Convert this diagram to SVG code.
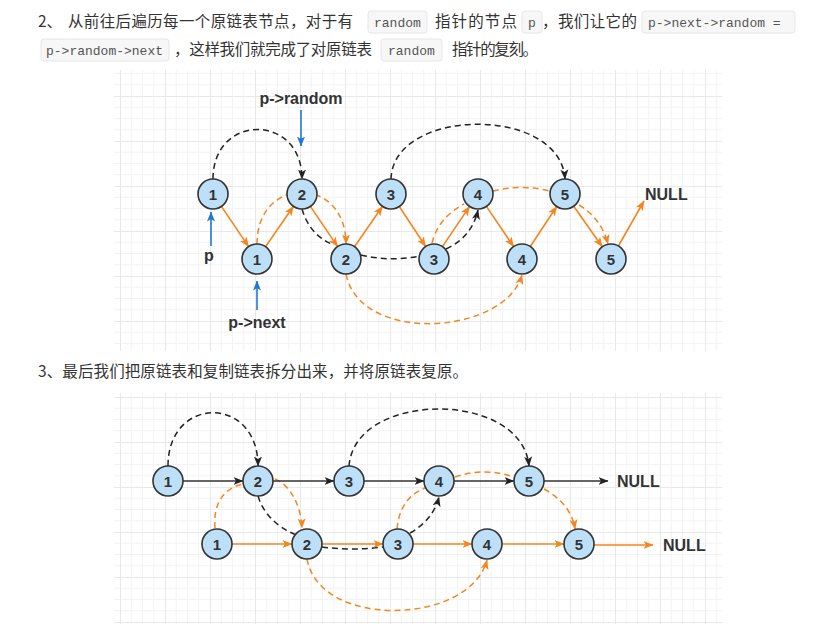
<svg xmlns="http://www.w3.org/2000/svg" width="836" height="624" viewBox="0 0 836 624">
<style>
.bg{fill:#ffffff}
.cn{font-family:"Noto Sans CJK SC","Noto Sans",sans-serif;font-size:15.5px;fill:#333}
.code{font-family:"Liberation Mono","DejaVu Sans Mono",monospace;font-size:13px;fill:#555}
.cbox{fill:#f7f7f7;stroke:#e6e6e6;stroke-width:1}
.node circle{fill:#bde0f8;stroke:#333;stroke-width:1.6}
.node text{font-family:"Liberation Sans",Arial,sans-serif;font-size:15px;font-weight:bold;fill:#333;text-anchor:middle}
.lbl{font-family:"Liberation Sans",Arial,sans-serif;font-size:16px;font-weight:bold;fill:#333}
.os{fill:none;stroke:#f5861f;stroke-width:1.6}
.od{fill:none;stroke:#f5861f;stroke-width:1.5;stroke-dasharray:6 4}
.ks{fill:none;stroke:#333;stroke-width:1.6}
.kd{fill:none;stroke:#222;stroke-width:1.5;stroke-dasharray:6 4}
.bl{fill:none;stroke:#1f78d1;stroke-width:1.6}
</style>
<defs>
<pattern id="gt" width="45" height="45" patternUnits="userSpaceOnUse" x="30" y="6">
<path d="M11.25,0 V45 M22.5,0 V45 M33.75,0 V45 M0,11.25 H45 M0,22.5 H45 M0,33.75 H45" stroke="#f3f3f3" stroke-width="1" fill="none"/>
<path d="M0.5,0 V45 M0,0.5 H45" stroke="#e8e8e8" stroke-width="1" fill="none"/>
</pattern>
<pattern id="gb" width="45" height="45" patternUnits="userSpaceOnUse" x="30" y="37">
<path d="M11.25,0 V45 M22.5,0 V45 M33.75,0 V45 M0,11.25 H45 M0,22.5 H45 M0,33.75 H45" stroke="#f3f3f3" stroke-width="1" fill="none"/>
<path d="M0.5,0 V45 M0,0.5 H45" stroke="#e8e8e8" stroke-width="1" fill="none"/>
</pattern>
<marker id="ao" markerUnits="userSpaceOnUse" markerWidth="10" markerHeight="10" viewBox="0 0 10 10" refX="9.5" refY="5" orient="auto"><path d="M0,1 L10,5 L0,9 L2.5,5 z" fill="#f5861f"/></marker>
<marker id="ak" markerUnits="userSpaceOnUse" markerWidth="10" markerHeight="10" viewBox="0 0 10 10" refX="9.5" refY="5" orient="auto"><path d="M0,1 L10,5 L0,9 L2.5,5 z" fill="#222"/></marker>
<marker id="ab" markerUnits="userSpaceOnUse" markerWidth="10" markerHeight="10" viewBox="0 0 10 10" refX="9.5" refY="5" orient="auto"><path d="M0,1 L10,5 L0,9 L2.5,5 z" fill="#1f78d1"/></marker>
</defs>
<rect class="bg" x="0" y="0" width="836" height="624"/>

<g id="text">
<text class="cn" x="38" y="27">2、</text>
<text class="cn" x="68" y="27" textLength="285">从前往后遍历每一个原链表节点，对于有</text>
<rect class="cbox" x="368" y="11" width="59" height="22" rx="3"/>
<text class="code" x="374" y="27">random</text>
<text class="cn" x="435" y="27" textLength="82">指针的节点</text>
<rect class="cbox" x="522" y="11" width="20" height="22" rx="3"/>
<text class="code" x="528" y="27">p</text>
<text class="cn" x="542" y="27" font-size="15">，</text>
<text class="cn" x="558" y="27" textLength="79">我们让它的</text>
<rect class="cbox" x="642" y="11" width="153" height="22" rx="3"/>
<text class="code" x="648" y="27">p-&gt;next-&gt;random =</text>
<rect class="cbox" x="41" y="39" width="128" height="22" rx="3"/>
<text class="code" x="46" y="55">p-&gt;random-&gt;next</text>
<text class="cn" x="174" y="55" textLength="198">，这样我们就完成了对原链表</text>
<rect class="cbox" x="381" y="39" width="61" height="22" rx="3"/>
<text class="code" x="388" y="55">random</text>
<text class="cn" x="452" y="55" textLength="86">指针的复刻。</text>
<text class="cn" x="38" y="377" textLength="430">3、最后我们把原链表和复制链表拆分出来，并将原链表复原。</text>
</g>

<rect x="114" y="70" width="608" height="281" fill="url(#gt)"/>
<rect x="114" y="393" width="608" height="231" fill="url(#gb)"/>

<g id="connectors-top">
<path class="kd" d="M213,179 C213,113 302,113 302,179" marker-end="url(#ak)"/>
<path class="kd" d="M391,179 C393,107 560,105 565,179" marker-end="url(#ak)"/>
<path class="kd" d="M302,209 Q310,236 334,245 M361,255 Q390,262 420,256 M446,249 Q472,237 478,210" marker-end="url(#ak)"/>
<path class="od" d="M257,244 C257,175 346,175 346,244" marker-end="url(#ao)"/>
<path class="od" d="M432,243 Q438,218 464,204 M493,191 Q520,184 550,191 M579,205 Q601,218 608,244" marker-end="url(#ao)"/>
<path class="od" d="M346,274 C360,345 505,335 522,275" marker-end="url(#ao)"/>
<path class="os" d="M221.4,206.4 L248.6,246.6" marker-end="url(#ao)"/>
<path class="os" d="M265.5,246.7 L293.5,206.3" marker-end="url(#ao)"/>
<path class="os" d="M310.4,206.4 L337.6,246.6" marker-end="url(#ao)"/>
<path class="os" d="M354.5,246.7 L382.5,206.3" marker-end="url(#ao)"/>
<path class="os" d="M399.3,206.5 L425.7,246.5" marker-end="url(#ao)"/>
<path class="os" d="M442.4,246.6 L469.6,206.4" marker-end="url(#ao)"/>
<path class="os" d="M486.4,206.4 L513.6,246.6" marker-end="url(#ao)"/>
<path class="os" d="M530.3,246.5 L556.7,206.5" marker-end="url(#ao)"/>
<path class="os" d="M573.7,206.2 L602.3,246.8" marker-end="url(#ao)"/>
<path class="os" d="M618.4,246 L644,201" marker-end="url(#ao)"/>
<path class="bl" d="M301,110 L301,146" marker-end="url(#ab)"/>
<path class="bl" d="M211,246 L211,212" marker-end="url(#ab)"/>
<path class="bl" d="M257,310 L257,281" marker-end="url(#ab)"/>
</g>

<g id="labels-top">
<text class="lbl" x="301" y="104" text-anchor="middle">p-&gt;random</text>
<text class="lbl" x="209" y="261" text-anchor="middle">p</text>
<text class="lbl" x="257" y="328" text-anchor="middle">p-&gt;next</text>
<text class="lbl" x="645" y="200" font-size="15">NULL</text>
</g>

<g id="top-n1" class="node"><circle cx="213" cy="194" r="15"/><text x="213" y="199.5">1</text></g>
<g id="top-n2" class="node"><circle cx="302" cy="194" r="15"/><text x="302" y="199.5">2</text></g>
<g id="top-n3" class="node"><circle cx="391" cy="194" r="15"/><text x="391" y="199.5">3</text></g>
<g id="top-n4" class="node"><circle cx="478" cy="194" r="15"/><text x="478" y="199.5">4</text></g>
<g id="top-n5" class="node"><circle cx="565" cy="194" r="15"/><text x="565" y="199.5">5</text></g>
<g id="top-c1" class="node"><circle cx="257" cy="259" r="15"/><text x="257" y="264.5">1</text></g>
<g id="top-c2" class="node"><circle cx="346" cy="259" r="15"/><text x="346" y="264.5">2</text></g>
<g id="top-c3" class="node"><circle cx="434" cy="259" r="15"/><text x="434" y="264.5">3</text></g>
<g id="top-c4" class="node"><circle cx="522" cy="259" r="15"/><text x="522" y="264.5">4</text></g>
<g id="top-c5" class="node"><circle cx="611" cy="259" r="15"/><text x="611" y="264.5">5</text></g>

<g id="connectors-bottom">
<path class="kd" d="M168,466 C168,395 258,395 258,466" marker-end="url(#ak)"/>
<path class="kd" d="M349,466 C355,390 522,390 529,466" marker-end="url(#ak)"/>
<path class="kd" d="M258,496 Q266,522 296,535 M322,547 Q352,551 383,547 M410,533 Q433,520 439,497" marker-end="url(#ak)"/>
<path class="od" d="M215,528 C213,503 224,488 243,484 M275,479 C290,485 301,505 302,528" marker-end="url(#ao)"/>
<path class="od" d="M397,529 C399,508 408,495 425,488 M455,477 Q484,467 514,477 M544,489 C560,498 572,510 575,529" marker-end="url(#ao)"/>
<path class="od" d="M307,559 C320,630 470,625 487,560" marker-end="url(#ao)"/>
<path class="ks" d="M183,481 L243,481" marker-end="url(#ak)"/>
<path class="ks" d="M273,481 L334,481" marker-end="url(#ak)"/>
<path class="ks" d="M364,481 L424,481" marker-end="url(#ak)"/>
<path class="ks" d="M454,481 L514,481" marker-end="url(#ak)"/>
<path class="ks" d="M544,481 L608,481" marker-end="url(#ak)"/>
<path class="os" d="M232,544 L292,544" marker-end="url(#ao)"/>
<path class="os" d="M322,544 L383,544" marker-end="url(#ao)"/>
<path class="os" d="M413,544 L472,544" marker-end="url(#ao)"/>
<path class="os" d="M502,544 L564,544" marker-end="url(#ao)"/>
<path class="os" d="M594,545 L653,545" marker-end="url(#ao)"/>
</g>

<g id="labels-bottom">
<text class="lbl" x="617" y="487" font-size="15">NULL</text>
<text class="lbl" x="663" y="551" font-size="15">NULL</text>
</g>

<g id="bot-n1" class="node"><circle cx="168" cy="481" r="15"/><text x="168" y="486.5">1</text></g>
<g id="bot-n2" class="node"><circle cx="258" cy="481" r="15"/><text x="258" y="486.5">2</text></g>
<g id="bot-n3" class="node"><circle cx="349" cy="481" r="15"/><text x="349" y="486.5">3</text></g>
<g id="bot-n4" class="node"><circle cx="439" cy="481" r="15"/><text x="439" y="486.5">4</text></g>
<g id="bot-n5" class="node"><circle cx="529" cy="481" r="15"/><text x="529" y="486.5">5</text></g>
<g id="bot-c1" class="node"><circle cx="217" cy="544" r="15"/><text x="217" y="549.5">1</text></g>
<g id="bot-c2" class="node"><circle cx="307" cy="544" r="15"/><text x="307" y="549.5">2</text></g>
<g id="bot-c3" class="node"><circle cx="398" cy="544" r="15"/><text x="398" y="549.5">3</text></g>
<g id="bot-c4" class="node"><circle cx="487" cy="544" r="15"/><text x="487" y="549.5">4</text></g>
<g id="bot-c5" class="node"><circle cx="579" cy="544" r="15"/><text x="579" y="549.5">5</text></g>
</svg>
